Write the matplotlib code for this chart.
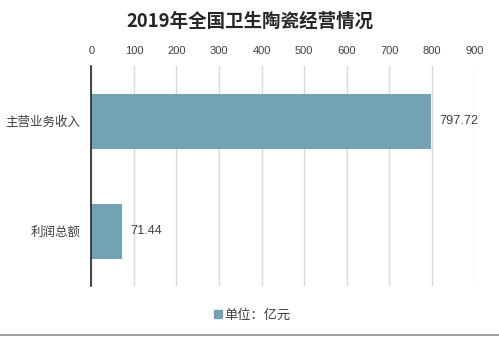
import matplotlib
matplotlib.use("Agg")
import matplotlib.pyplot as plt
from matplotlib.lines import Line2D

categories = ["主营业务收入", "利润总额"]
values = [797.72, 71.44]
x_ticks = [0, 100, 200, 300, 400, 500, 600, 700, 800, 900]
title = "2019年全国卫生陶瓷经营情况"
legend_label = "单位：亿元"

bar_color = "#74A2B5"
cjk = ["Noto Sans CJK SC", "DejaVu Sans"]
num = ["Liberation Sans", "DejaVu Sans"]

W, H = 499, 337
fig = plt.figure(figsize=(W / 100, H / 100), dpi=100)
fig.patch.set_facecolor("white")

# plot area in pixel coordinates
left, right, top, bottom = 91.3, 474.3, 66, 286
ax = fig.add_axes([left / W, 1 - bottom / H, (right - left) / W, (bottom - top) / H])

ypos = list(range(len(categories)))
ax.barh(ypos, values, height=0.5, color=bar_color, zorder=3)
ax.set_ylim(len(categories) - 0.5, -0.5)
ax.set_xlim(0, 900)

ax.set_xticks(x_ticks)
ax.set_xticklabels([str(t) for t in x_ticks], family=num, fontsize=8, color="#404040")
ax.xaxis.tick_top()
ax.tick_params(axis="x", length=0, pad=7.5)
ax.set_yticks(ypos)
ax.set_yticklabels(categories, family=cjk, fontsize=9, color="#404040")
ax.tick_params(axis="y", length=0, pad=8)

ax.grid(axis="x", color="#D9D9D9", linewidth=1, zorder=0)
for s in ["top", "right", "bottom"]:
    ax.spines[s].set_visible(False)
ax.spines["left"].set_color("#262626")
ax.spines["left"].set_linewidth(1.2)
ax.spines["left"].set_zorder(4)

for y, v in zip(ypos, values):
    ax.annotate(f"{v:.2f}", (v, y), xytext=(6, 0), textcoords="offset points",
                va="center", ha="left", family=num, fontsize=9.2, color="#404040")

fig.text(0.5, 1 - 21 / H, title, ha="center", va="center", family=cjk,
         fontsize=13.3, fontweight="bold", color="#262626")

handle = Line2D([], [], marker="s", linestyle="none", markersize=6,
                markerfacecolor=bar_color, markeredgecolor=bar_color)
fig.legend([handle], [legend_label], loc="center", bbox_to_anchor=(251 / W, 1 - 315 / H),
           frameon=False, prop={"family": cjk, "size": 9.5}, handletextpad=0.0,
           labelcolor="#404040", handlelength=1.0)

# thin rule along the bottom edge
fig.add_artist(Line2D([0, 1], [1 - 334.7 / H, 1 - 334.7 / H], color="#8C8C8C", linewidth=1.2,
                      transform=fig.transFigure))

fig.savefig("out.png", dpi=100)
